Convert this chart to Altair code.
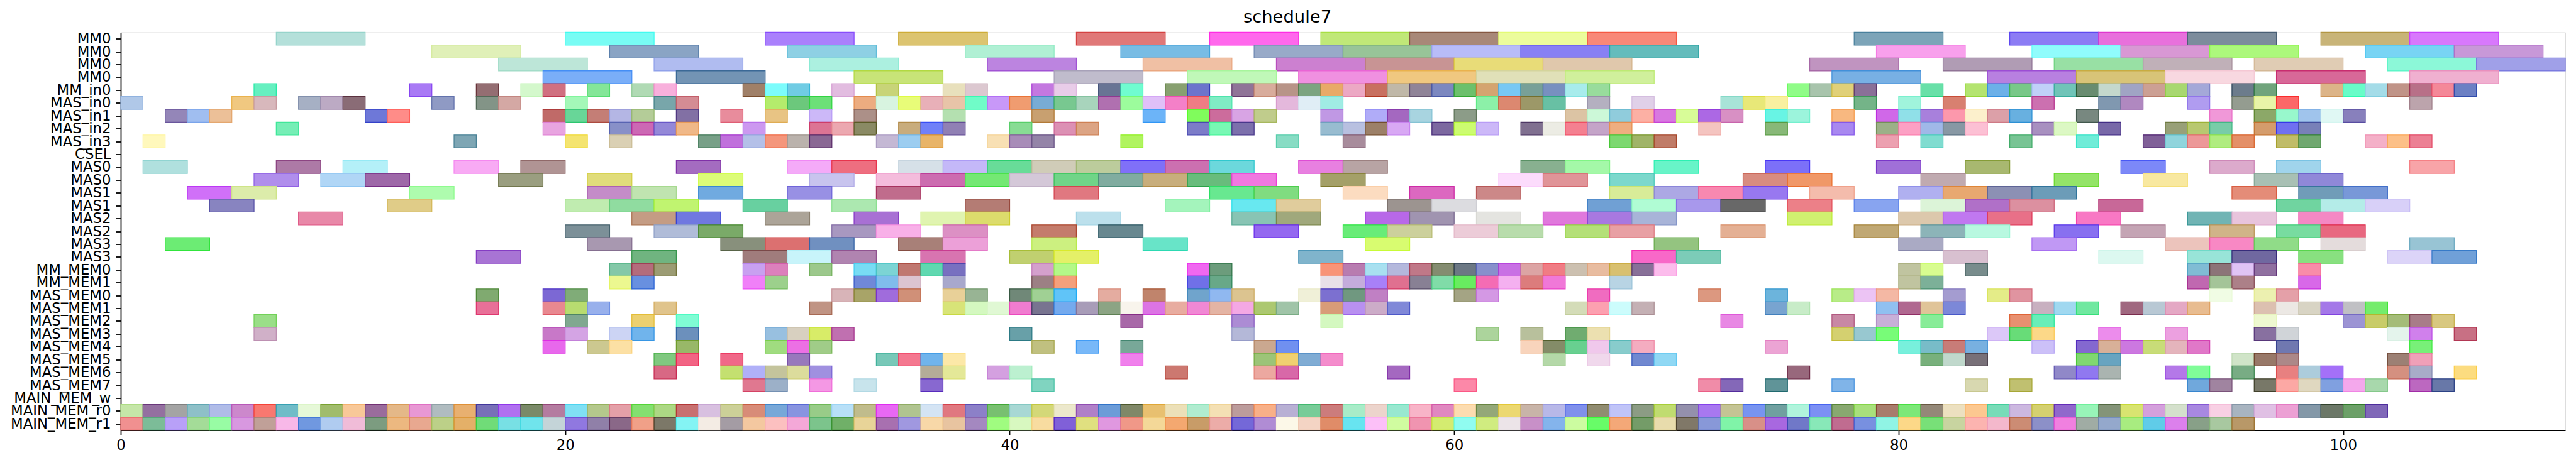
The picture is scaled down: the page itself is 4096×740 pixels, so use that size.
import altair as alt
import pandas as pd

# ---------------- data ----------------
row_labels = ["MM0", "MM0", "MM0", "MM0", "MM_in0", "MAS_in0", "MAS_in1", "MAS_in2",
              "MAS_in3", "CSEL", "MAS0", "MAS0", "MAS1", "MAS1", "MAS2", "MAS2", "MAS3",
              "MAS3", "MM_MEM0", "MM_MEM1", "MAS_MEM0", "MAS_MEM1", "MAS_MEM2", "MAS_MEM3",
              "MAS_MEM4", "MAS_MEM5", "MAS_MEM6", "MAS_MEM7", "MAIN_MEM_w", "MAIN_MEM_r0",
              "MAIN_MEM_r1"]

row_durations = [4, 4, 4, 4, 1, 1, 1, 1, 1, 1, 2, 2, 2, 2, 2, 2, 2, 2,
                 1, 1, 1, 1, 1, 1, 1, 1, 1, 1, 1, 1, 1]

x_ticks = [0, 20, 40, 60, 80, 100]
title_text = ["schedule7"]

# each row: (start, colour)
row00 = [(7, "#b4e0da"), (20, "#78fcf4"), (29, "#aa80fc"), (35, "#dcc470"), (43, "#e07878"),
         (49, "#ff68ec"), (54, "#c0e878"), (58, "#a88878"), (62, "#ecfc9c"), (66, "#f88878"),
         (78, "#7ca4b8"), (85, "#8c7cf4"), (89, "#e870dc"), (93, "#7c8c9c"), (99, "#c8b478"),
         (103, "#d878fc")]
row01 = [(14, "#e0f0b8"), (22, "#8aa4c4"), (30, "#8ed0e4"), (38, "#b0f0d4"), (45, "#78bce4"),
         (51, "#98aac8"), (55, "#98c498"), (59, "#b8bcf8"), (63, "#8880f4"), (67, "#64bcbc"),
         (79, "#f8a0ec"), (86, "#90fcfc"), (90, "#d898d4"), (94, "#acf87c"), (101, "#78d4f4"),
         (105, "#c898d8")]
row02 = [(17, "#bde6d8"), (24, "#b0bcf0"), (31, "#acf0e0"), (39, "#bc84e0"), (46, "#f0c0a4"),
         (52, "#cc80d0"), (56, "#c89494"), (60, "#e8dc78"), (64, "#e0c8ac"), (76, "#c094c0"),
         (82, "#b09cb4"), (87, "#98e0a4"), (91, "#c0b0b8"), (96, "#e0ccb4"), (102, "#8cf8d8"),
         (106, "#a0a0e8")]
row03 = [(19, "#7aaef8"), (25, "#7394b4"), (33, "#c8e478"), (42, "#c0bccc"), (48, "#c0f8b8"),
         (53, "#f090e0"), (57, "#f0c880"), (61, "#e0e0b8"), (65, "#d0f09c"), (77, "#78b0e4"),
         (84, "#b880e0"), (88, "#d8c478"), (92, "#f8d8e0"), (97, "#d86898"), (103, "#f0b0d0")]
row04 = [(6, "#66f0c0"), (13, "#a97af5"), (16, "#946e72"), (18, "#d4f8cc"), (19, "#d07080"),
         (21, "#84e698"), (23, "#b0dab4"), (24, "#f8b0dc"), (28, "#a08068"), (29, "#7cfcfc"),
         (30, "#70cce4"), (32, "#e2bce0"), (34, "#c8d478"), (37, "#e8e0bc"), (38, "#dcc8d0"),
         (41, "#c478e0"), (42, "#e8cce8"), (44, "#687494"), (45, "#70fcd0"), (47, "#88a070"),
         (48, "#6c74cc"), (50, "#907498"), (51, "#d8ac9c"), (52, "#b89488"), (53, "#7ca480"),
         (54, "#e8aa68"), (55, "#eca8c4"), (56, "#c87060"), (57, "#c0b8a8"), (58, "#908498"),
         (59, "#7c88c0"), (60, "#6cc06c"), (61, "#d4a470"), (62, "#78c8f4"), (63, "#78a098"),
         (64, "#7890c0"), (65, "#a8ecec"), (66, "#98dc9c"), (75, "#90fc88"), (76, "#a8c4ac"),
         (77, "#e0d078"), (78, "#8a7098"), (81, "#68e0a8"), (83, "#b4e470"), (84, "#6cb0e8"),
         (85, "#78c888"), (86, "#c0d0f8"), (87, "#70c4b8"), (88, "#688c70"), (89, "#c4d8cc"),
         (90, "#a0a4c4"), (91, "#cca094"), (92, "#a8d870"), (93, "#a4a8d8"), (95, "#6c7c8c"),
         (96, "#70a47c"), (99, "#dcb488"), (100, "#68fcc8"), (101, "#a4dce8"), (102, "#c09488"),
         (103, "#b87088"), (104, "#f48898"), (105, "#6c80c4")]
row05 = [(0, "#b0c8e8"), (5, "#f0c880"), (6, "#d8b8bc"), (8, "#a6b0c4"), (9, "#bcaac4"),
         (10, "#8a6c76"), (14, "#8f9ac4"), (16, "#839487"), (17, "#d4a8a4"), (20, "#a4f8b8"),
         (24, "#78a6aa"), (25, "#d48c94"), (29, "#b4ec6c"), (30, "#6cc87c"), (31, "#6ce078"),
         (33, "#ecac80"), (34, "#d8f4e0"), (35, "#e8fc78"), (36, "#e8b0b8"), (37, "#e8c4a8"),
         (38, "#70fcc8"), (39, "#c898f8"), (40, "#f09c70"), (41, "#78acd4"), (42, "#78c890"),
         (43, "#a8d4bc"), (44, "#b070b0"), (45, "#9cfc9c"), (46, "#e0c0f8"), (47, "#f480c8"),
         (48, "#f07c84"), (49, "#80ecc4"), (52, "#e4b8dc"), (53, "#e0eef6"), (54, "#a0ece4"),
         (61, "#8cf0a8"), (62, "#dc8870"), (63, "#9c9868"), (64, "#68c0a4"), (66, "#b4b0c0"),
         (68, "#e0d0e8"), (72, "#a8e4d8"), (73, "#e8e878"), (74, "#f8f0a0"), (78, "#74b488"),
         (80, "#a0f4dc"), (82, "#d88070"), (86, "#cc70b0"), (89, "#8098b0"), (90, "#b088c0"),
         (93, "#b09cf0"), (95, "#949c90"), (96, "#e8f4a8"), (97, "#fc6868"), (103, "#bca4ac")]
row06 = [(2, "#9486b8"), (3, "#a0bef0"), (4, "#ecc098"), (11, "#6e78d8"), (12, "#ff8c88"),
         (19, "#c06a68"), (20, "#68d698"), (21, "#c47e76"), (22, "#b4b6e4"), (23, "#b4cc98"),
         (25, "#8270a4"), (27, "#e88c9c"), (29, "#e8c484"), (31, "#ccb8f8"), (33, "#ac9088"),
         (37, "#b4e0b0"), (41, "#c8a070"), (46, "#6cb4f8"), (48, "#80fc5c"), (49, "#cc6c9c"),
         (50, "#d8a4e4"), (51, "#c0cc8c"), (54, "#c098e4"), (56, "#b0acf8"), (57, "#a468c0"),
         (58, "#a8d4e0"), (60, "#8c9c88"), (65, "#dcc4a4"), (66, "#ccf8d8"), (67, "#90ccdc"),
         (68, "#fcb0a4"), (69, "#d878e0"), (70, "#d8fc98"), (71, "#ac68e4"), (72, "#d890c4"),
         (74, "#68f4e4"), (75, "#9cf4dc"), (77, "#f8b880"), (79, "#d068e8"), (80, "#90e0e8"),
         (81, "#a880dc"), (82, "#fc98ac"), (83, "#fcf0cc"), (84, "#dca0a8"), (85, "#68b0e0"),
         (88, "#788880"), (94, "#f098d8"), (96, "#8ca868"), (97, "#98f8cc"), (98, "#a0c4ec"),
         (99, "#e0f8f4"), (100, "#8880bc")]
row07 = [(7, "#76eeb6"), (19, "#e8a4e0"), (22, "#8890c8"), (23, "#cc68b4"), (24, "#9488d8"),
         (25, "#f0b888"), (28, "#cc98f0"), (31, "#dc7494"), (32, "#eca8b0"), (33, "#8a8a64"),
         (35, "#c8ac7c"), (36, "#7080f8"), (37, "#9080b4"), (40, "#88dc94"), (42, "#dc90b4"),
         (43, "#dca484"), (48, "#7c7cc8"), (49, "#78f8b4"), (50, "#7c70ac"), (54, "#98bcd0"),
         (55, "#b8c0e0"), (56, "#9c8068"), (57, "#d8a8f4"), (59, "#7c68a0"), (60, "#ccfc70"),
         (61, "#ccb8f8"), (63, "#807090"), (64, "#ececE4"), (65, "#f48090"), (66, "#c4a4c8"),
         (67, "#eeae80"), (71, "#f4c4c0"), (74, "#88b878"), (77, "#a888f0"), (79, "#9cb088"),
         (80, "#fca0c4"), (81, "#a0b8e8"), (82, "#8898a4"), (83, "#fcc0d4"), (86, "#a890c0"),
         (87, "#dcf8c4"), (89, "#7868a8"), (92, "#98a078"), (93, "#b8c870"), (94, "#78cca8"),
         (96, "#d49c6c"), (97, "#7070f0"), (98, "#7880b8")]
row08 = [(1, "#fff8bc"), (15, "#7ea6b4"), (20, "#f4e470"), (22, "#dad0b4"), (26, "#78a088"),
         (27, "#c070dc"), (28, "#b4c0e8"), (29, "#f4967c"), (30, "#bab2ac"), (31, "#8a6894"),
         (34, "#c4b8d4"), (35, "#9ccdf0"), (36, "#e8b468"), (39, "#f8e0b4"), (40, "#a88cb8"),
         (41, "#9484a8"), (45, "#b0f460"), (52, "#88dcc4"), (55, "#a88c9c"), (67, "#7cd870"),
         (68, "#a0b468"), (69, "#c07c68"), (79, "#eca0b0"), (81, "#80dcd0"), (85, "#78c494"),
         (88, "#70ecd8"), (91, "#806098"), (92, "#90d4dc"), (93, "#ec9898"), (94, "#b0ec80"),
         (95, "#e49068"), (97, "#c0bc68"), (98, "#70a870"), (101, "#f4b0c8"), (102, "#fcc088"),
         (103, "#ec8094")]
row09 = []
row10 = [(1, "#b0e0de"), (7, "#ad7aa6"), (10, "#b4f0f8"), (15, "#f8aaf4"), (18, "#b09494"),
         (25, "#a46cc0"), (30, "#f4aaf8"), (32, "#ee6e80"), (35, "#d6e0e8"), (37, "#c4b8f8"),
         (39, "#68dc98"), (41, "#d0ccb8"), (43, "#bccc9c"), (45, "#8070f8"), (47, "#cc70b0"),
         (49, "#6cd8dc"), (53, "#e880e0"), (55, "#b8a4a4"), (63, "#88b090"), (65, "#a4f8a8"),
         (69, "#68f4c8"), (74, "#7c70f8"), (79, "#a070d8"), (83, "#a8b870"), (90, "#7c88f8"),
         (94, "#dcaacc"), (97, "#a0d4ec"), (103, "#f8a4a8")]
row11 = [(6, "#b08eec"), (9, "#b0d6f6"), (11, "#9e68a8"), (17, "#9a9e80"), (21, "#e0dc7a"),
         (26, "#dcfc78"), (31, "#c8c4ee"), (34, "#f4bcdc"), (36, "#cc6cb0"), (38, "#74e874"),
         (40, "#d4c8d8"), (42, "#70d488"), (44, "#80aca0"), (46, "#c8ae7c"), (48, "#68bc7c"),
         (50, "#f078e0"), (54, "#a4a068"), (62, "#fcdcfc"), (64, "#e09498"), (67, "#7cd8cc"),
         (73, "#d88c80"), (75, "#f09868"), (81, "#c0aab0"), (87, "#94e468"), (91, "#f8e8a0"),
         (96, "#a8c0b4"), (98, "#9088d8")]
row12 = [(3, "#d070f8"), (5, "#dcecaa"), (13, "#aefcae"), (21, "#c48cc8"), (23, "#c0e4b0"),
         (26, "#70aae0"), (30, "#9890e4"), (34, "#c06c8c"), (42, "#e07880"), (49, "#68e890"),
         (51, "#80dc80"), (55, "#fcdcc0"), (58, "#dc68c0"), (61, "#cc8888"), (67, "#d8ec98"),
         (69, "#aca8e4"), (71, "#f888b0"), (73, "#9878f0"), (76, "#f4bcac"), (80, "#b0b0f0"),
         (82, "#e8a870"), (84, "#8c90b4"), (86, "#6c9cb8"), (95, "#e48c78"), (98, "#709cb8"),
         (100, "#7898d8")]
row13 = [(4, "#8884c0"), (12, "#e0cc88"), (20, "#c0ecb0"), (22, "#90dca0"), (24, "#c0f470"),
         (28, "#68d0a0"), (32, "#ace8b0"), (38, "#b47c74"), (47, "#a4f4bc"), (50, "#68e8f0"),
         (52, "#e0cc9c"), (57, "#9c9490"), (59, "#dcdce0"), (66, "#70a0d4"), (68, "#b0fcd4"),
         (70, "#a898ec"), (72, "#686868"), (75, "#ec8088"), (78, "#88a4f0"), (81, "#dcf4d8"),
         (83, "#b070c8"), (85, "#dc90a0"), (89, "#c86898"), (97, "#70d4a0"), (99, "#b4ece8"),
         (101, "#d8d0f8")]
row14 = [(8, "#e888a8"), (23, "#c49c84"), (25, "#7078e0"), (29, "#aca498"), (33, "#a870d4"),
         (36, "#e0f4b0"), (38, "#dcdc6c"), (43, "#bce0ec"), (50, "#88c4b4"), (52, "#a0a87c"),
         (56, "#b868e8"), (58, "#a094b0"), (61, "#e4e4e0"), (64, "#e078dc"), (66, "#a878e0"),
         (68, "#a8b4d8"), (75, "#d0f070"), (80, "#dcc8ac"), (82, "#c078f0"), (84, "#e87088"),
         (88, "#f878c4"), (93, "#70b4b4"), (95, "#e8c4dc"), (98, "#f488c4")]
row15 = [(20, "#7c9098"), (24, "#b0bcd8"), (26, "#7aaa68"), (32, "#a898c0"), (34, "#f8b0e8"),
         (37, "#dc90c4"), (41, "#c47c6c"), (44, "#688890"), (51, "#9468f0"), (55, "#68ec78"),
         (57, "#ccd09c"), (60, "#ecccd8"), (62, "#b8dcac"), (65, "#b4e078"), (67, "#e8a0a4"),
         (72, "#e4b094"), (78, "#c0a874"), (81, "#8cb4b8"), (83, "#b8f8e0"), (87, "#8870f0"),
         (90, "#c4a4b4"), (94, "#d0b488"), (97, "#78dca0"), (99, "#e86880")]
row16 = [(2, "#6cec74"), (21, "#a898b0"), (27, "#88907c"), (29, "#dc7070"), (31, "#7090c0"),
         (35, "#a88078"), (37, "#eca0d8"), (41, "#ccf080"), (46, "#68e4c8"), (56, "#d8fc70"),
         (69, "#94c480"), (80, "#aaaac4"), (86, "#c098f4"), (92, "#ecc4bc"), (94, "#f888c4"),
         (96, "#90dc88"), (99, "#e4dcdc"), (103, "#98c4d4")]
row17 = [(16, "#a874d4"), (23, "#70b480"), (28, "#a07c7c"), (30, "#c8f4fa"), (32, "#b084b0"),
         (36, "#d874b0"), (40, "#c0d070"), (42, "#e4f068"), (53, "#80b4cc"), (68, "#f868c8"),
         (70, "#7cccb8"), (82, "#d8c0d0"), (89, "#dcf8f0"), (93, "#98e4d8"), (95, "#7068a0"),
         (98, "#88e080"), (102, "#dcd4f8"), (104, "#70a0d8")]
row18 = [(22, "#84c8a8"), (23, "#b46c7c"), (24, "#9c9c74"), (28, "#c8a0f0"), (29, "#dc80bc"),
         (31, "#9cc88c"), (33, "#78dcf4"), (34, "#7cd4d4"), (35, "#c07870"), (36, "#60d8b0"),
         (37, "#7870c0"), (41, "#d4a0cc"), (42, "#b4f888"), (48, "#f068f0"), (49, "#6c9c7c"),
         (54, "#f89478"), (55, "#b87cb0"), (56, "#a8e0f0"), (57, "#b4b8dc"), (58, "#c07888"),
         (59, "#848c70"), (60, "#6c7884"), (61, "#8890cc"), (62, "#c870e4"), (63, "#dca4a4"),
         (64, "#f07c84"), (65, "#ccc0b0"), (66, "#e8bca0"), (67, "#d8c070"), (68, "#887098"),
         (69, "#fcbcec"), (80, "#c0c4a0"), (81, "#d8fc90"), (83, "#788c8c"), (93, "#80bcd4"),
         (94, "#8c7478"), (95, "#e0c4f4"), (96, "#9070a0"), (98, "#f88ca8")]
row19 = [(22, "#ecf890"), (23, "#6890e0"), (28, "#f080f8"), (29, "#9cd08c"), (33, "#7088d8"),
         (34, "#80bcec"), (35, "#dcc4d0"), (37, "#a8a8cc"), (41, "#9c8084"), (42, "#f4a07c"),
         (48, "#7070e8"), (49, "#68a888"), (54, "#e8e0e8"), (55, "#c4acdc"), (56, "#a880f8"),
         (57, "#e07090"), (58, "#888094"), (59, "#80dca8"), (60, "#68ec60"), (61, "#f46cb4"),
         (62, "#f4b0f0"), (63, "#dc7c7c"), (64, "#f078d8"), (67, "#b8d4e4"), (80, "#c0c4a0"),
         (81, "#7cb098"), (93, "#c068b0"), (94, "#a4c498"), (95, "#ac8088"), (98, "#d868e8")]
row20 = [(16, "#80aa70"), (19, "#7c68d4"), (20, "#80ac78"), (32, "#d8b4b8"), (33, "#a8a468"),
         (34, "#a06cdc"), (35, "#d09078"), (37, "#e8d098"), (38, "#98b494"), (40, "#708878"),
         (41, "#a0d094"), (42, "#60c4f8"), (44, "#e4aca0"), (46, "#c0846c"), (48, "#70a4cc"),
         (49, "#90b8f0"), (50, "#dcc490"), (53, "#f0f0d8"), (54, "#7c70d0"), (55, "#709880"),
         (56, "#c080c4"), (60, "#a4a484"), (61, "#d498e4"), (66, "#f06cc0"), (71, "#dc9880"),
         (74, "#6cb4dc"), (77, "#b8ec88"), (78, "#ecc4f4"), (79, "#f4b8a4"), (82, "#a49cd0"),
         (84, "#e4ec88"), (85, "#e094a0"), (94, "#f0fce4"), (96, "#ecf0b0"), (97, "#e4a0a8")]
row21 = [(16, "#e87098"), (19, "#e88890"), (20, "#b8dc70"), (21, "#98b0ec"), (24, "#e0c48c"),
         (31, "#c09484"), (37, "#d8e478"), (38, "#d4f8c0"), (39, "#e0f8d4"), (40, "#f07cd0"),
         (41, "#787490"), (42, "#74aaee"), (43, "#a89cb8"), (44, "#8ca484"), (45, "#f8f4ec"),
         (46, "#dc74e4"), (47, "#e8aca0"), (48, "#f088d4"), (49, "#e4b4a4"), (50, "#f4a8e4"),
         (51, "#acc870"), (52, "#a0c4a8"), (54, "#d89c78"), (55, "#b890f0"), (56, "#ccacc8"),
         (57, "#8088d8"), (65, "#d4dcb8"), (66, "#fca0b0"), (67, "#ccfcfc"), (68, "#c4b0b4"),
         (74, "#78a4d0"), (75, "#c8ecc8"), (79, "#90c0f0"), (80, "#b06890"), (81, "#e0c498"),
         (82, "#7c88d8"), (86, "#c8b0c0"), (87, "#a0d8f0"), (88, "#70e8a0"), (90, "#a06880"),
         (91, "#b8c8d4"), (92, "#e4a8c4"), (93, "#e8bc90"), (96, "#dcc0b0"), (97, "#ece8e4"),
         (98, "#d8d4c4"), (99, "#a478e8"), (100, "#c0c0c4"), (101, "#74ec6c")]
row22 = [(6, "#9ade88"), (20, "#80a890"), (23, "#ecd070"), (25, "#80fcd4"), (45, "#a868a8"),
         (50, "#ac8cd4"), (54, "#d4f8c0"), (72, "#e888e4"), (77, "#c888a4"), (79, "#c8b0d8"),
         (81, "#88ec98"), (85, "#e89070"), (86, "#68eeb8"), (96, "#eef8d0"), (100, "#9c94d4"),
         (101, "#c8cc68"), (102, "#a4bc78"), (103, "#a87c88"), (104, "#d8c880")]
row23 = [(6, "#d0b0c8"), (19, "#c878c8"), (20, "#d4a4e4"), (22, "#ccd4f4"), (23, "#70b4ec"),
         (25, "#6c90bc"), (29, "#98c0e0"), (30, "#d8d0c0"), (31, "#d8ec68"), (32, "#c070b0"),
         (40, "#68a0a8"), (50, "#b4b8d8"), (61, "#acd49c"), (63, "#b8c09c"), (65, "#70ac70"),
         (66, "#ece0b0"), (77, "#d4d070"), (78, "#98c8d0"), (79, "#78fc78"), (84, "#dcc8f8"),
         (85, "#68dc78"), (86, "#fcd888"), (89, "#ec8cec"), (92, "#eca0e0"), (96, "#8870a0"),
         (97, "#d0d4d8"), (102, "#e4f4ec"), (103, "#d080ec"), (105, "#c87084")]
row24 = [(19, "#e868ec"), (21, "#ccc890"), (22, "#fce0a4"), (25, "#98b868"), (29, "#a0dc80"),
         (30, "#ec70e4"), (31, "#a0cc88"), (41, "#c0c080"), (43, "#78b8f8"), (45, "#78a898"),
         (51, "#caa890"), (52, "#7090f0"), (63, "#f8d4bc"), (64, "#848c68"), (65, "#68d090"),
         (66, "#f0c8ec"), (67, "#88cccc"), (68, "#f4acc0"), (74, "#eca4d4"), (80, "#78f0dc"),
         (81, "#78bcc8"), (82, "#c87c78"), (83, "#78b0e0"), (86, "#ccc0f8"), (88, "#8468d0"),
         (89, "#d8b098"), (90, "#cc78e0"), (91, "#c8dc78"), (92, "#e4b4bc"), (93, "#e078c8"),
         (97, "#7078b0"), (103, "#78f078")]
row25 = [(24, "#80c880"), (25, "#f26484"), (27, "#f06888"), (30, "#9878bc"), (34, "#78c8b8"),
         (35, "#f47890"), (36, "#70b4ec"), (37, "#fce8a8"), (45, "#f080ec"), (51, "#9cc478"),
         (52, "#f0d070"), (53, "#80acd4"), (54, "#f48ccc"), (64, "#b4d8a8"), (66, "#f0d8ec"),
         (68, "#7088d0"), (69, "#90d8f4"), (81, "#78b07c"), (82, "#c0d8cc"), (83, "#787078"),
         (88, "#80d870"), (89, "#68a4c0"), (95, "#d0e4c8"), (96, "#987868"), (97, "#ac8888"),
         (102, "#9c8074"), (103, "#f0a0b8")]
row26 = [(24, "#d86884"), (27, "#c4e070"), (28, "#b0b0f8"), (29, "#c4c49c"), (30, "#dcdc9c"),
         (31, "#a090e0"), (36, "#b4ac98"), (37, "#e4e898"), (39, "#d4a0e0"), (40, "#bcf0d0"),
         (47, "#cc7870"), (51, "#eca8a0"), (52, "#d868a8"), (57, "#a468c0"), (75, "#98687c"),
         (87, "#9088c8"), (88, "#9078f0"), (89, "#aab4b0"), (92, "#b478e8"), (93, "#80fc98"),
         (95, "#78ac84"), (97, "#e88080"), (98, "#acccdc"), (99, "#a470f8"), (102, "#d49080"),
         (103, "#a8acc8"), (105, "#fcdc80")]
row27 = [(28, "#e07890"), (29, "#9cb0c8"), (31, "#f498e4"), (33, "#c8e4ec"), (36, "#8868d0"),
         (41, "#80d4c0"), (60, "#fc88a8"), (71, "#f08ca8"), (72, "#8468b8"), (74, "#609498"),
         (77, "#80b4e8"), (83, "#d8d8b0"), (85, "#c0c070"), (93, "#70a8dc"), (94, "#a084a0"),
         (96, "#787868"), (97, "#fca8a4"), (98, "#e0d8c0"), (99, "#80a0e0"), (100, "#f4a8ec"),
         (101, "#a8d8ac"), (103, "#bc68c0"), (104, "#6878a8")]
row28 = []
row29 = [(0, "#c5e6a8"), (1, "#9470a0"), (2, "#a4a4a4"), (3, "#8ec0c8"), (4, "#b0bce8"),
         (5, "#cc88cc"), (6, "#f87870"), (7, "#70bcc8"), (8, "#e6f8d8"), (9, "#a0bc6c"),
         (10, "#f8c898"), (11, "#9a6c9c"), (12, "#e4b888"), (13, "#e898d4"), (14, "#b0bcc0"),
         (15, "#e8b070"), (16, "#7870b8"), (17, "#b070f0"), (18, "#7a8a68"), (19, "#b47ca0"),
         (20, "#80e0f4"), (21, "#b4c88c"), (22, "#e4a0a8"), (23, "#84e070"), (24, "#acd884"),
         (25, "#c87070"), (26, "#d8c0e0"), (27, "#ccd098"), (28, "#d88c78"), (29, "#78a8d8"),
         (30, "#8894e0"), (31, "#98cc88"), (32, "#b8e0f8"), (33, "#c0bc8c"), (34, "#e868f4"),
         (35, "#b0c490"), (36, "#d4e4f4"), (37, "#e07880"), (38, "#8c80c8"), (39, "#78c070"),
         (40, "#a8d8d4"), (41, "#d4d878"), (42, "#ece8cc"), (43, "#b080c8"), (44, "#6c9cd8"),
         (45, "#808868"), (46, "#e8c070"), (47, "#ece0b8"), (48, "#b0ecd0"), (49, "#f4e0b4"),
         (50, "#bc9c9c"), (51, "#f8b088"), (52, "#b8b0d4"), (53, "#78cc98"), (54, "#cc7c7c"),
         (55, "#a8ecc8"), (56, "#ecd4cc"), (57, "#98e8d0"), (58, "#f8b4c8"), (59, "#e088c0"),
         (60, "#fcdcb0"), (61, "#94a878"), (62, "#ecd870"), (63, "#c8b4a8"), (64, "#b8b8e8"),
         (65, "#8090ec"), (66, "#908c70"), (67, "#c0c4f8"), (68, "#8c9c84"), (69, "#c0dc70"),
         (70, "#9490ac"), (71, "#a878f0"), (72, "#c4c494"), (73, "#7894f0"), (74, "#70a0a0"),
         (75, "#b0f4dc"), (76, "#7c90f4"), (77, "#88a870"), (78, "#a8e07c"), (79, "#a87c6c"),
         (80, "#7ce878"), (81, "#948878"), (82, "#ece0c0"), (83, "#fcc890"), (84, "#78dcb8"),
         (85, "#ccb8e0"), (86, "#d4d070"), (87, "#9068cc"), (88, "#98f4b8"), (89, "#849478"),
         (90, "#d8e470"), (91, "#d4a0dc"), (92, "#d4e0cc"), (93, "#a888e0"), (94, "#f8d0e4"),
         (95, "#a8b4c0"), (96, "#e0c0e4"), (97, "#eca0d4"), (98, "#8498a8"), (99, "#6c7868"),
         (100, "#6ca068"), (101, "#8068b8")]
row30 = [(0, "#f09090"), (1, "#7cbc98"), (2, "#b8a0f8"), (3, "#a4dc98"), (4, "#98fca4"),
         (5, "#d898e0"), (6, "#c0a098"), (7, "#f8b8e8"), (8, "#7098e0"), (9, "#b0ccf0"),
         (10, "#f0bcd8"), (11, "#7c9c80"), (12, "#ecb880"), (13, "#e8a890"), (14, "#bcd088"),
         (15, "#e4b068"), (16, "#70dc78"), (17, "#78e0e4"), (18, "#70e4ec"), (19, "#c4d4d8"),
         (20, "#9078e0"), (21, "#9080a8"), (22, "#8a6888"), (23, "#f0a088"), (24, "#7c7868"),
         (25, "#84f4f4"), (26, "#f4ece4"), (27, "#a49ca4"), (28, "#f4c8a0"), (29, "#fcc0c0"),
         (30, "#f4a8d8"), (31, "#7cc48c"), (32, "#70b068"), (33, "#e8d498"), (34, "#a870b0"),
         (35, "#a098e0"), (36, "#f8d8a8"), (37, "#e8c4a0"), (38, "#a488c0"), (39, "#a0fc80"),
         (40, "#d8f8c0"), (41, "#f8dca0"), (42, "#8060d8"), (43, "#e0e080"), (44, "#e098e0"),
         (45, "#f09888"), (46, "#f4d898"), (47, "#f4a870"), (48, "#c89c68"), (49, "#ecaca8"),
         (50, "#7468d8"), (51, "#b08cd4"), (52, "#fcf8e8"), (53, "#f4d4c4"), (54, "#e08c68"),
         (55, "#68e4f0"), (56, "#fcc0f8"), (57, "#d0fca0"), (58, "#f094b0"), (59, "#d4ec70"),
         (60, "#90fcf0"), (61, "#d0ec80"), (62, "#ece4e8"), (63, "#c890c8"), (64, "#84b4ec"),
         (65, "#ccfca0"), (66, "#68fc68"), (67, "#f4a878"), (68, "#749c68"), (69, "#e8dcac"),
         (70, "#807868"), (71, "#8898d8"), (72, "#80f4a8"), (73, "#d89088"), (74, "#a868e0"),
         (75, "#7078c8"), (76, "#88e8b8"), (77, "#c06c90"), (78, "#7890e0"), (79, "#90f4e4"),
         (80, "#fcd888"), (81, "#78e078"), (82, "#c8d4a0"), (83, "#fcb4b0"), (84, "#f4b8cc"),
         (85, "#cc8c74"), (86, "#8c90c8"), (87, "#f080e0"), (88, "#a0aca4"), (89, "#94a8cc"),
         (90, "#a8ec80"), (91, "#60cce8"), (92, "#dc80ec"), (93, "#88a088"), (94, "#a8c8a0"),
         (95, "#b89868")]

all_rows = [row00, row01, row02, row03, row04, row05, row06, row07, row08, row09, row10,
            row11, row12, row13, row14, row15, row16, row17, row18, row19, row20, row21,
            row22, row23, row24, row25, row26, row27, row28, row29, row30]

# ---------------- build table ----------------
def edge_of(c):
    c = c.lower()
    r, g, b = int(c[1:3], 16), int(c[3:5], 16), int(c[5:7], 16)
    f = lambda v: max(0, min(255, int(round(1.4 * v - 0.4 * 255))))
    return "#%02x%02x%02x" % (f(r), f(g), f(b))

recs = []
for i, bars in enumerate(all_rows):
    d = row_durations[i]
    for s, col in bars:
        recs.append({"x": s, "x2": s + d, "y": i - 0.5, "y2": i + 0.5,
                     "fill": col.lower(), "edge": edge_of(col)})
df = pd.DataFrame(recs)

label_js = "[" + ",".join("'%s'" % l for l in row_labels) + "][datum.value]"
FONT = "DejaVu Sans"
W, H = 3887, 633

bars = alt.Chart(df).mark_rect(strokeWidth=1.3).encode(
    x=alt.X("x:Q", title=None,
            scale=alt.Scale(domain=[0, 110], nice=False, zero=False),
            axis=alt.Axis(values=x_ticks, grid=False, labelFontSize=22.8, labelFont=FONT,
                          labelColor="black", tickColor="black", tickSize=8, tickWidth=1.8,
                          domainColor="black", domainWidth=1.8, labelPadding=5,
                          labelFlush=False)),
    x2="x2:Q",
    y=alt.Y("y:Q", title=None,
            scale=alt.Scale(domain=[-0.5, 30.5], reverse=True, nice=False, zero=False),
            axis=alt.Axis(values=list(range(len(row_labels))), labelExpr=label_js, grid=False,
                          labelFontSize=22.8, labelFont=FONT, labelColor="black",
                          tickColor="black", tickSize=8, tickWidth=1.8, domainColor="black",
                          domainWidth=1.8, labelPadding=8, labelFlush=False,
                          labelOverlap=False, labelBound=False)),
    y2="y2:Q",
    fill=alt.Fill("fill:N", scale=None, legend=None),
    stroke=alt.Stroke("edge:N", scale=None, legend=None),
)

# figure-centred title (suptitle-like), placed relative to the plot area
title = alt.Chart(pd.DataFrame({"t": title_text})).mark_text(
    font=FONT, fontSize=27.4, color="black", align="center", baseline="alphabetic"
).encode(x=alt.value(1855), y=alt.value(-16), text="t:N")

chart = alt.layer(bars, title).properties(
    width=W, height=H,
    autosize=alt.AutoSizeParams(type="none"),
    padding={"left": 184, "top": 43.5, "right": 9, "bottom": 47.5},
).configure_view(stroke="black", strokeWidth=1.8).configure(background="white")

chart.save("out.html", embed_options={"renderer": "svg", "actions": False})
